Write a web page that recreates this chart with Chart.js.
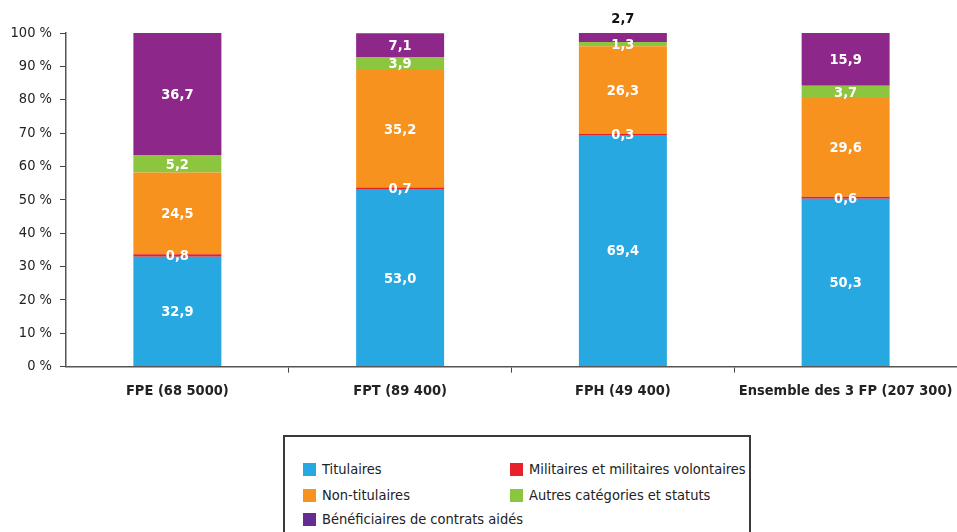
<!DOCTYPE html>
<html>
<head>
<meta charset="utf-8">
<script src="https://cdn.jsdelivr.net/npm/chart.js@4/dist/chart.umd.min.js"></script>
<style>
  body { margin: 0; background: #fff; font-family: 'Liberation Sans Narrow', 'DejaVu Sans Condensed', sans-serif; }
  #wrap { position: relative; width: 957px; height: 532px; overflow: hidden; }
  #legend {
    position: absolute; left: 283px; top: 435px; width: 468px; height: 110px;
    border: 2px solid #3a3a3a; box-sizing: border-box; font-size: 14.5px; color: #222;
  }
  .item { position: absolute; white-space: nowrap; line-height: 14px; }
  .item span { display: inline-block; width: 13px; height: 13px; margin-right: 6px; vertical-align: -2px; }
</style>
</head>
<body>
<div id="wrap">
  <canvas id="chart" width="957" height="410"></canvas>
  <div id="legend"></div>
</div>
<script>
const categories = ['FPE (68 5000)', 'FPT (89 400)', 'FPH (49 400)', 'Ensemble des 3 FP (207 300)'];
const titulaires = [32.9, 53.0, 69.4, 50.3];
const militaires = [0.8, 0.7, 0.3, 0.6];
const nonTitulaires = [24.5, 35.2, 26.3, 29.6];
const autres = [5.2, 3.9, 1.3, 3.7];
const contratsAides = [36.7, 7.1, 2.7, 15.9];
const yTicks = [0, 10, 20, 30, 40, 50, 60, 70, 80, 90, 100];

const FONT = "'Liberation Sans Narrow', 'DejaVu Sans Condensed', sans-serif";

const series = [
  { label: 'Titulaires', data: titulaires, color: '#27a8e0', legend: '#27a8e0' },
  { label: 'Militaires et militaires volontaires', data: militaires, color: '#e8202a', legend: '#e8202a' },
  { label: 'Non-titulaires', data: nonTitulaires, color: '#f7921e', legend: '#f7921e' },
  { label: 'Autres catégories et statuts', data: autres, color: '#8cc63f', legend: '#8cc63f' },
  { label: 'Bénéficiaires de contrats aidés', data: contratsAides, color: '#8d2789', legend: '#662d91' }
];

// value labels drawn in the middle of each segment
const valueLabels = {
  id: 'valueLabels',
  afterDatasetsDraw(chart) {
    const ctx = chart.ctx;
    ctx.save();
    ctx.font = 'bold 14.5px ' + FONT;
    ctx.textAlign = 'center';
    ctx.textBaseline = 'middle';
    chart.data.datasets.forEach((ds, i) => {
      chart.getDatasetMeta(i).data.forEach((bar, j) => {
        const v = ds.data[j];
        const txt = v.toFixed(1).replace('.', ',');
        // tiny top segment of FPH sits above the bar
        if (i === 4 && v < 3) {
          ctx.fillStyle = '#111';
          ctx.fillText(txt, bar.x, bar.y - 14);
        } else {
          ctx.fillStyle = '#fff';
          ctx.fillText(txt, bar.x, (bar.y + bar.base) / 2 + 1);
        }
      });
    });
    ctx.restore();
  }
};

new Chart(document.getElementById('chart'), {
  type: 'bar',
  data: {
    labels: categories,
    datasets: series.map(s => ({
      label: s.label,
      data: s.data,
      backgroundColor: s.color,
      borderWidth: 0,
      categoryPercentage: 1,
      barPercentage: 0.395
    }))
  },
  options: {
    responsive: false,
    animation: false,
    layout: { padding: { top: 33, right: -7, left: 0, bottom: 0 } },
    plugins: { legend: { display: false }, tooltip: { enabled: false } },
    scales: {
      x: {
        stacked: true,
        afterFit(scale) { scale.paddingRight = 0; scale.paddingLeft = 0; },
        grid: {
          display: true, drawOnChartArea: false, tickLength: 6, offset: true,
          color: c => (c.index === 0 || c.index === categories.length) ? 'rgba(0,0,0,0)' : '#444'
        },
        border: { display: true, color: '#555', width: 1.5 },
        ticks: { color: '#222', font: { family: FONT, size: 14.5, weight: 'bold' }, padding: 10, maxRotation: 0 }
      },
      y: {
        stacked: true,
        min: 0,
        max: 100,
        afterFit(scale) { scale.width = 66; },
        afterBuildTicks(scale) { scale.ticks = yTicks.map(v => ({ value: v })); },
        grid: { display: true, drawOnChartArea: false, tickLength: 6, color: '#444' },
        border: { display: true, color: '#555', width: 1.5 },
        ticks: {
          color: '#222',
          font: { family: FONT, size: 14.5 },
          padding: 8,
          callback: v => v + ' %'
        }
      }
    }
  },
  plugins: [valueLabels]
});

// HTML legend in a framed box, two columns
const legend = document.getElementById('legend');
const pos = [[18, 25], [225, 25], [18, 51], [225, 51], [18, 75]];
series.forEach((s, i) => {
  const el = document.createElement('div');
  el.className = 'item';
  el.style.left = pos[i][0] + 'px';
  el.style.top = pos[i][1] + 'px';
  el.innerHTML = '<span style="background:' + s.legend + '"></span>' + s.label;
  legend.appendChild(el);
});
</script>
</body>
</html>
